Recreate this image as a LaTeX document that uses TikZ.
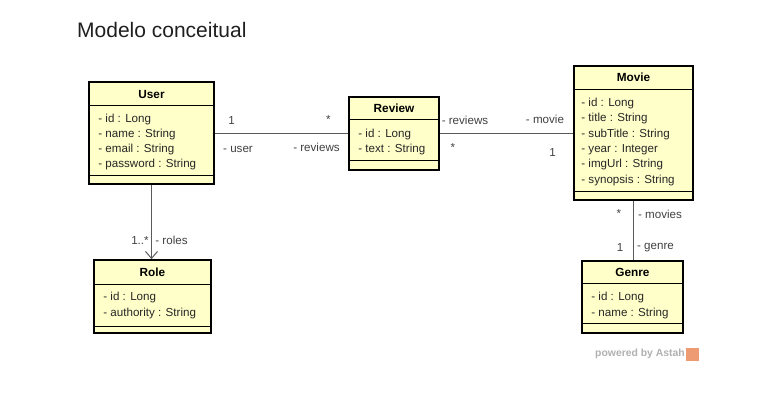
\documentclass[tikz,border=0pt]{standalone}
\usepackage{fontspec}
\setmainfont{Liberation Sans}
\usetikzlibrary{arrows.meta}
\definecolor{classfill}{HTML}{FFFFCA}
\definecolor{linkgray}{HTML}{5A5A5A}
\definecolor{labelgray}{HTML}{404040}
\definecolor{astahgray}{HTML}{B0B0B0}
\definecolor{astahorange}{HTML}{EE9A72}
\begin{document}
\begin{tikzpicture}[x=1pt,y=-1pt]
\tikzstyle{every node}+=[inner sep=0pt]
\tikzstyle{classbox}=[draw=black,line width=1.6pt,fill=classfill]
\tikzstyle{classname}=[font=\fontsize{11.8}{13}\selectfont\bfseries]
\tikzstyle{attr}=[anchor=west,font=\fontsize{11.6}{13}\selectfont,text=black!85]
\tikzstyle{sep}=[draw=black,line width=0.9pt]
\tikzstyle{assoc}=[draw=linkgray,line width=1pt]
\tikzstyle{rolelabel}=[font=\fontsize{11.6}{13}\selectfont,text=labelgray]
\useasboundingbox (0,0) rectangle (780,402);
\node [anchor=base west,font=\fontsize{21}{25}\selectfont,text=black!88] (heading) at (77,37) {Modelo conceitual};
% User
\node [classbox,minimum width=125pt,minimum height=102pt] (user) at (151.5,133) {};
\draw [sep] ([yshift=-24pt]user.north west) -- ([yshift=-24pt]user.north east);
\draw [sep] ([yshift=9pt]user.south west) -- ([yshift=9pt]user.south east);
\node [classname] (user-name) at ([yshift=-13pt]user.north) {User};
\foreach \a [count=\i] in {- id : Long, - name : String, - email : String, - password : String}
  \node [attr] (user-a\i) at ([xshift=10pt,yshift={-(23+15*\i)*1pt}]user.north west) {\a};
% Review
\node [classbox,minimum width=90pt,minimum height=73pt] (review) at (394,133.5) {};
\draw [sep] ([yshift=-23pt]review.north west) -- ([yshift=-23pt]review.north east);
\draw [sep] ([yshift=10pt]review.south west) -- ([yshift=10pt]review.south east);
\node [classname] (review-name) at ([yshift=-12.5pt]review.north) {Review};
\foreach \a [count=\i] in {- id : Long, - text : String}
  \node [attr] (review-a\i) at ([xshift=10pt,yshift={-(23+15*\i)*1pt}]review.north west) {\a};
% Movie
\node [classbox,minimum width=119pt,minimum height=134pt] (movie) at (633.5,133) {};
\draw [sep] ([yshift=-24pt]movie.north west) -- ([yshift=-24pt]movie.north east);
\draw [sep] ([yshift=9pt]movie.south west) -- ([yshift=9pt]movie.south east);
\node [classname] (movie-name) at ([yshift=-12.5pt]movie.north) {Movie};
\foreach \a [count=\i] in {- id : Long, - title : String, - subTitle : String, - year : Integer, - imgUrl : String, - synopsis : String}
  \node [attr] (movie-a\i) at ([xshift=8pt,yshift={-(22.6+15.4*\i)*1pt}]movie.north west) {\a};
% Role
\node [classbox,minimum width=117pt,minimum height=73pt] (role) at (152.5,296.5) {};
\draw [sep] ([yshift=-25pt]role.north west) -- ([yshift=-25pt]role.north east);
\draw [sep] ([yshift=7pt]role.south west) -- ([yshift=7pt]role.south east);
\node [classname] (role-name) at ([yshift=-13.5pt]role.north) {Role};
\foreach \a [count=\i] in {- id : Long, - authority : String}
  \node [attr] (role-a\i) at ([xshift=10pt,yshift={-(22+16*\i)*1pt}]role.north west) {\a};
% Genre
\node [classbox,minimum width=101pt,minimum height=72pt] (genre) at (632.5,297) {};
\draw [sep] ([yshift=-23pt]genre.north west) -- ([yshift=-23pt]genre.north east);
\draw [sep] ([yshift=10pt]genre.south west) -- ([yshift=10pt]genre.south east);
\node [classname] (genre-name) at ([yshift=-12.5pt]genre.north) {Genre};
\foreach \a [count=\i] in {- id : Long, - name : String}
  \node [attr] (genre-a\i) at ([xshift=10pt,yshift={-(21+16*\i)*1pt}]genre.north west) {\a};
% associations
\draw [assoc] (user.east) -- (user.east -| review.west);
\draw [assoc] (review.east) -- (review.east -| movie.west);
\draw [assoc,-{Straight Barb[length=7pt,width=12pt]}] (user.south) -- (user.south |- role.north);
\draw [assoc] (movie.south) -- (movie.south |- genre.north);
\node [rolelabel] (m-user) at (231.5,120.5) {1};
\node [rolelabel] (m-reviews1) at (328.5,119.5) {*};
\node [rolelabel] (r-user) at (238,149) {- user};
\node [rolelabel] (r-reviews1) at (316.5,147) {- reviews};
\node [rolelabel] (r-reviews2) at (465,120.5) {- reviews};
\node [rolelabel] (r-movie) at (545,119.5) {- movie};
\node [rolelabel] (m-reviews2) at (453,147.5) {*};
\node [rolelabel] (m-movie) at (552.5,153) {1};
\node [rolelabel] (m-roles) at (140,240.5) {1..*};
\node [rolelabel] (r-roles) at (171.5,240.5) {- roles};
\node [rolelabel] (m-movies) at (619,214) {*};
\node [rolelabel] (r-movies) at (660,214.5) {- movies};
\node [rolelabel] (m-genre) at (620,248) {1};
\node [rolelabel] (r-genre) at (655.5,248) {- genre};
% powered by
\node [anchor=east,font=\fontsize{10.4}{12}\selectfont\bfseries,text=astahgray] (powered) at (685,354) {powered by Astah};
\fill [astahorange] (powered.east) ++(0.5,-6.5) rectangle ++(13,13);
\end{tikzpicture}
\end{document}
